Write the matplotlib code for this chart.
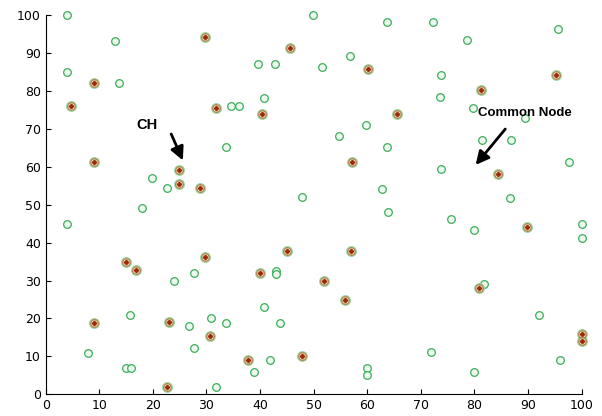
import matplotlib.pyplot as plt

# nodos comunes (circulo verde)
common_x = [4, 12.9, 3.9, 13.6, 34.5, 36.0, 33.7, 19.8, 22.7, 49.9, 63.7, 39.7, 42.7,
            56.7, 51.6, 40.7, 59.7, 54.7, 63.6, 62.7, 47.8, 72.2, 95.6, 78.6, 73.7,
            73.6, 79.7, 89.5, 81.4, 86.8, 97.7, 73.7, 86.7,
            17.9, 3.9, 27.7, 23.9, 15.8, 26.8, 30.8, 33.7, 27.7, 7.8, 14.9, 16.0,
            31.7, 63.9, 42.9, 42.9, 40.7, 43.8, 41.9, 38.9, 59.9, 59.9, 75.7, 80.0,
            100, 100, 81.8, 92.0, 71.9, 95.9, 80.0]
common_y = [100, 93.2, 85.1, 82.2, 76.0, 76.0, 65.2, 57.0, 54.4, 100, 98.2, 87.2, 87.2,
            89.2, 86.3, 78.1, 71.1, 68.1, 65.2, 54.2, 52.0, 98.1, 96.3, 93.4, 84.2,
            78.4, 75.4, 72.8, 67.1, 67.1, 61.3, 59.4, 51.7,
            49.1, 44.9, 32.0, 30.0, 20.9, 18.0, 20.1, 18.9, 12.2, 11.0, 6.9, 6.9,
            1.9, 48.2, 32.5, 31.8, 23.1, 18.9, 9.0, 6.0, 7.0, 5.2, 46.2, 43.3,
            44.9, 41.2, 29.2, 20.9, 11.1, 9.0, 6.0]

# cluster heads
ch_x = [29.8, 9.0, 4.8, 31.7, 9.0, 24.9, 24.8, 28.7, 45.6, 60.2, 40.4, 65.5, 57.2,
        95.3, 81.3, 84.4, 14.9, 16.8, 29.8, 9.0, 23.0, 30.6, 22.6, 45.0, 56.9,
        39.9, 51.9, 55.9, 37.8, 47.9, 89.8, 80.8, 100, 100]
ch_y = [94.1, 82.2, 76.0, 75.4, 61.2, 59.1, 55.5, 54.4, 91.2, 85.7, 74.0, 74.0, 61.3,
        84.3, 80.1, 58.2, 35.0, 32.9, 36.2, 18.9, 19.2, 15.3, 1.9, 37.9, 37.9,
        32.0, 30.0, 25.0, 9.0, 10.1, 44.1, 28.0, 16.0, 14.0]

fig = plt.figure(figsize=(6.02, 4.16), dpi=100)
ax = fig.add_axes([0.076, 0.052, 0.890, 0.912])

ax.plot(common_x, common_y, 'o', ms=5.5, mfc='#eefaf0', mec='#3aae5a', mew=0.9, clip_on=False)
ax.plot(ch_x, ch_y, 'o', ms=7, mfc='none', mec='#8fd8a0', mew=0.8, clip_on=False)
ax.plot(ch_x, ch_y, 'o', ms=5.5, mfc='#f6ecd2', mec='#b08a50', mew=1.0, clip_on=False)
ax.plot(ch_x, ch_y, 'D', ms=2.2, mfc='#9a2a0a', mec='#9a2a0a', clip_on=False)

ax.set_xlim(0, 100)
ax.set_ylim(0, 100)
ax.set_xticks(range(0, 101, 10))
ax.set_yticks(range(0, 101, 10))
ax.spines['top'].set_visible(False)
ax.spines['right'].set_visible(False)
ax.tick_params(direction='in', length=3.5, width=0.8, labelsize=9, colors='black')

flecha = dict(arrowstyle='-|>,head_length=0.8,head_width=0.4', lw=2, color='black')
ax.text(17.0, 71, 'CH', fontsize=10.5, fontweight='bold', family='Liberation Sans',
        ha='left', va='center')
ax.annotate('', xy=(25.8, 61.0), xytext=(23.2, 69.3), arrowprops=flecha)
ax.text(80.7, 74.2, 'Common Node', fontsize=9.5, fontweight='bold', family='Liberation Sans',
        ha='left', va='center')
ax.annotate('', xy=(79.9, 59.9), xytext=(86.1, 70.5), arrowprops=flecha)

plt.savefig('out.png')
